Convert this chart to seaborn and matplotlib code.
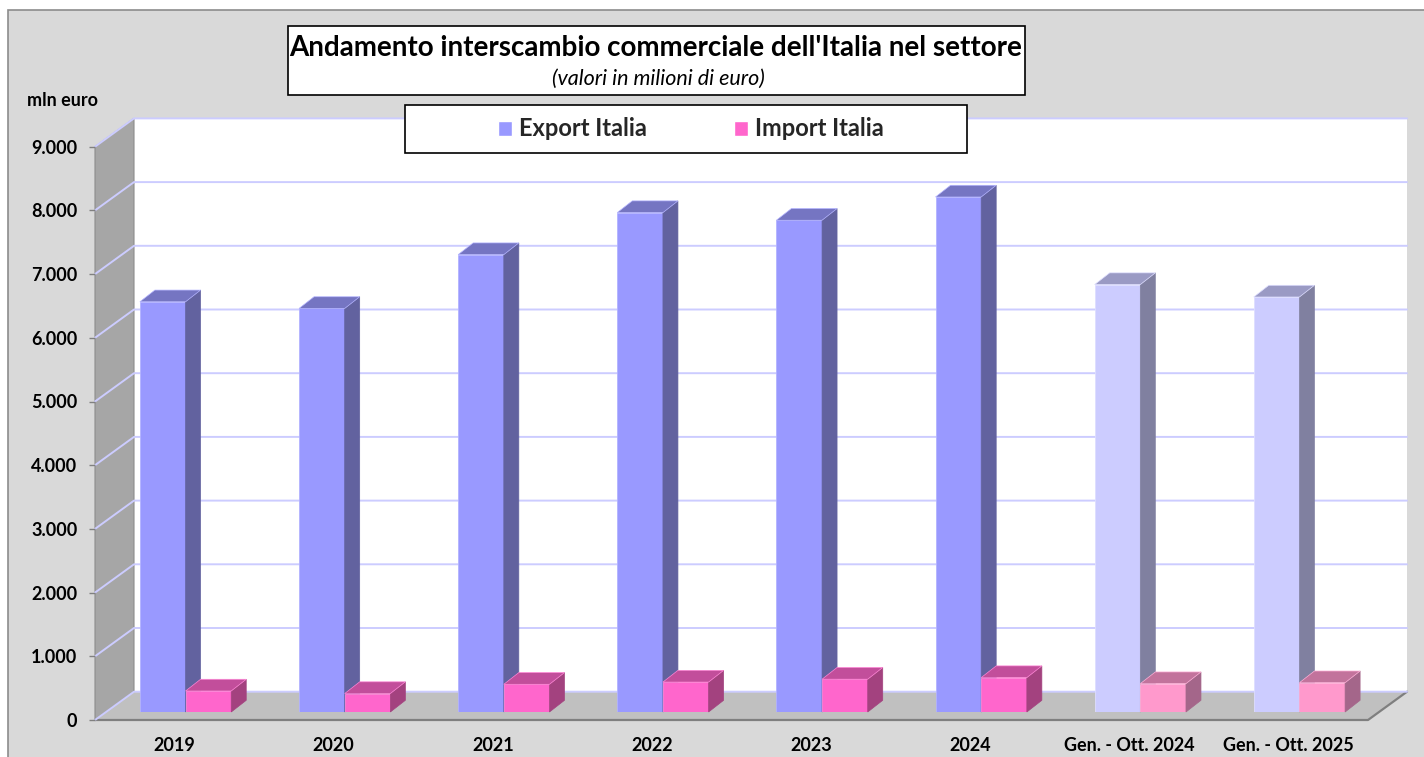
import numpy as np
import pandas as pd
import matplotlib
matplotlib.use("Agg")
import matplotlib.pyplot as plt
import seaborn as sns
from matplotlib.patches import Polygon, Rectangle, Patch
from matplotlib.lines import Line2D
from matplotlib.transforms import IdentityTransform

# ---------------- data ----------------
categories = ["2019", "2020", "2021", "2022", "2023", "2024",
              "Gen. - Ott. 2024", "Gen. - Ott. 2025"]
export_vals = [6440, 6335, 7180, 7840, 7720, 8085, 6710, 6515]
import_vals = [330, 290, 435, 470, 515, 540, 445, 460]
series = ["Export Italia", "Import Italia"]
y_ticks = [0, 1000, 2000, 3000, 4000, 5000, 6000, 7000, 8000, 9000]
y_tick_labels = ["0", "1.000", "2.000", "3.000", "4.000", "5.000",
                 "6.000", "7.000", "8.000", "9.000"]
title = "Andamento interscambio commerciale dell'Italia nel settore"
subtitle = "(valori in milioni di euro)"
y_unit = "mln euro"

# ---------------- style ----------------
sns.set_theme(style="white")
plt.rcParams['font.family'] = ['Lato', 'DejaVu Sans']

W, H = 1424, 757
fig = plt.figure(figsize=(W / 100, H / 100), dpi=100)
fig.patch.set_facecolor('white')

# chart area background
fig.patches.append(Rectangle((8 / W, -0.05), 1.1, 1.05 - 10 / H,
                             transform=fig.transFigure, facecolor='#D9D9D9',
                             edgecolor='#8C8C8C', lw=1.2, zorder=-1))

# bar plane axes and front plane axes
ax = fig.add_axes([106 / W, 1 - 712 / H, 1273 / W, 573.3 / H])
axf = fig.add_axes([95 / W, 1 - 720 / H, 1273 / W, 573.3 / H])
for a in (ax, axf):
    a.set_facecolor('none')

df = pd.DataFrame({
    'categoria': categories * 2,
    'serie': [series[0]] * len(categories) + [series[1]] * len(categories),
    'valore': export_vals + import_vals,
})
sns.barplot(data=df, x='categoria', y='valore', hue='serie', order=categories,
            hue_order=series, palette={series[0]: '#9999FF', series[1]: '#FF66CC'},
            width=0.574, saturation=1, errorbar=None, legend=False, ax=ax,
            linewidth=0.6)
ax.set_xlim(-0.5, len(categories) - 0.5)
ax.set_ylim(0, 9000)
ax.set_axis_off()

# depth offsets (pixels)
F = (-11, -8)      # front edge of floor
B = (28, 20.3)     # back wall
D = (15, 11.7)     # bar depth


def disp(x, v, d=(0, 0)):
    X, Y = ax.transData.transform((x, v))
    return (X + d[0], Y + d[1])


x_lo, x_hi = -0.5, len(categories) - 0.5
ymax = y_ticks[-1]
idt = IdentityTransform()

# walls and floor
back = Polygon([disp(x_lo, 0, B), disp(x_hi, 0, B), disp(x_hi, ymax, B), disp(x_lo, ymax, B)],
               closed=True, facecolor='white', edgecolor='none', transform=idt, clip_on=False, zorder=0.2)
left = Polygon([disp(x_lo, 0, F), disp(x_lo, ymax, F), disp(x_lo, ymax, B), disp(x_lo, 0, B)],
               closed=True, facecolor='#A6A6A6', edgecolor='#8C8C8C', lw=0.8,
               transform=idt, clip_on=False, zorder=0.3)
floor = Polygon([disp(x_lo, 0, F), disp(x_hi, 0, F), disp(x_hi, 0, B), disp(x_lo, 0, B)],
                closed=True, facecolor='#C0C0C0', edgecolor='none', transform=idt, clip_on=False, zorder=0.3)
for p in (back, left, floor):
    ax.add_patch(p)
# floor edges
pts = [disp(x_lo, 0, F), disp(x_hi, 0, F), disp(x_hi, 0, B)]
xs, ys = zip(*pts)
ax.add_line(Line2D(xs, ys, color='#7F7F7F', lw=1.6, transform=idt, clip_on=False, zorder=0.4))

# gridlines on back wall + left wall
for v in y_ticks:
    p0, p1, p2 = disp(x_lo, v, F), disp(x_lo, v, B), disp(x_hi, v, B)
    ax.add_line(Line2D([p0[0], p1[0], p2[0]], [p0[1], p1[1], p2[1]], color='#CCCCFF',
                       lw=1.4, transform=idt, clip_on=False, zorder=0.5))

# 3D extrusions of the bars
front_c = {('e', 0): '#9999FF', ('e', 1): '#CCCCFF', ('i', 0): '#FF66CC', ('i', 1): '#FF99CC'}
side_c = {('e', 0): '#62629F', ('e', 1): '#8080A0', ('i', 0): '#A3427F', ('i', 1): '#A4668A'}
top_c = {('e', 0): '#7575C2', ('e', 1): '#9A9AC4', ('i', 0): '#C24E9B', ('i', 1): '#C2739C'}
edge_c = {('e', 0): '#B3B3FF', ('e', 1): '#DDDDFF', ('i', 0): '#FF85D6', ('i', 1): '#FFB0D8'}

bars = sorted([p for p in ax.patches if isinstance(p, Rectangle) and p.get_height() > 0],
              key=lambda p: p.get_x())
for k, p in enumerate(bars):
    x0, w, h = p.get_x(), p.get_width(), p.get_height()
    c = x0 + w / 2
    cat = int(round(c))
    key = ('i' if c > cat else 'e', 1 if cat >= 6 else 0)
    z = 2 + k * 0.1
    p.set_facecolor(front_c[key])
    p.set_edgecolor(edge_c[key])
    p.set_zorder(z)
    x1 = x0 + w
    side = Polygon([disp(x1, 0), disp(x1, h), disp(x1, h, D), disp(x1, 0, D)], closed=True,
                   facecolor=side_c[key], edgecolor=side_c[key], lw=0.5, transform=idt,
                   clip_on=False, zorder=z + 0.03)
    top = Polygon([disp(x0, h), disp(x1, h), disp(x1, h, D), disp(x0, h, D)], closed=True,
                  facecolor=top_c[key], edgecolor=edge_c[key], lw=0.5, transform=idt,
                  clip_on=False, zorder=z + 0.04)
    ax.add_patch(side)
    ax.add_patch(top)

# front plane axes: tick labels
axf.set_xlim(x_lo, x_hi)
axf.set_ylim(0, ymax)
for s in axf.spines.values():
    s.set_visible(False)
axf.set_yticks(y_ticks)
axf.set_yticklabels(y_tick_labels)
axf.set_xticks(range(len(categories)))
axf.set_xticklabels(categories)
axf.tick_params(axis='y', length=4.3, width=1, color='#808080', pad=8.5,
                labelsize=13, left=True)
axf.tick_params(axis='x', length=0, pad=12, labelsize=13)
for t in axf.get_xticklabels() + axf.get_yticklabels():
    t.set_fontweight('bold')
    t.set_color('black')

# unit label
fig.text(27 / W, 1 - 100 / H, y_unit, ha='left', va='center', fontsize=13,
         fontweight='bold', color='black')

# title box
fig.patches.append(Rectangle((288 / W, 1 - 95 / H), 737 / W, 69 / H, transform=fig.transFigure,
                             facecolor='white', edgecolor='black', lw=1.2, zorder=4))
fig.text(656 / W, 1 - 48 / H, title, ha='center', va='center', fontsize=20,
         fontweight='bold', color='black', zorder=6)
fig.text(658 / W, 1 - 79 / H, subtitle, ha='center', va='center', fontsize=15.5,
         style='italic', color='black', zorder=6)

# legend box
fig.patches.append(Rectangle((405 / W, 1 - 153 / H), 562 / W, 48 / H, transform=fig.transFigure,
                             facecolor='white', edgecolor='black', lw=1.2, zorder=4))
handles = [Patch(facecolor='#9999FF', label=series[0]), Patch(facecolor='#FF66CC', label=series[1])]
leg = fig.legend(handles=handles, loc='center', bbox_to_anchor=(691 / W, 1 - 129 / H), ncol=2,
                 frameon=False, prop={'weight': 'bold', 'size': 17}, handlelength=0.6,
                 handleheight=0.6, handletextpad=0.3, columnspacing=3.7)
leg.set_zorder(6)

fig.savefig('out.png', dpi=100)
